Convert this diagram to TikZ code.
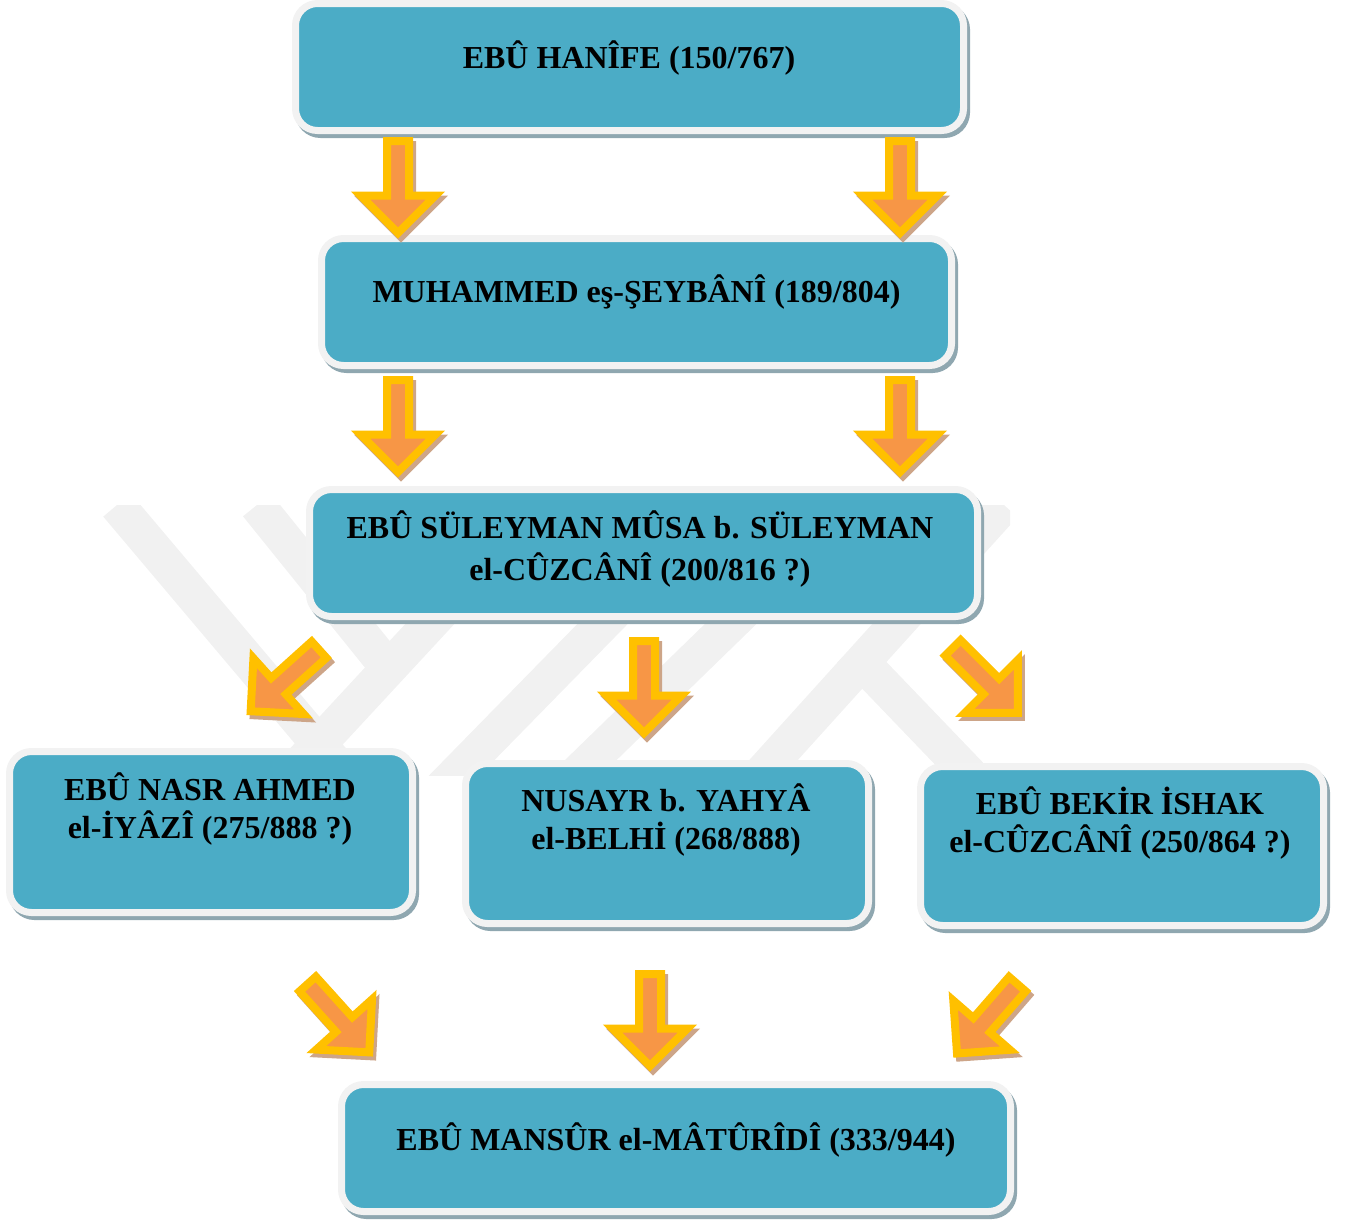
\documentclass[tikz,border=0pt]{standalone}
\usepackage{fontspec}
\setmainfont{Liberation Serif}
\usetikzlibrary{shapes.arrows,shadows}

\definecolor{boxteal}{HTML}{4BACC6}
\definecolor{boxrim}{HTML}{F2F2F2}
\definecolor{boxshade}{HTML}{8FA7B0}
\definecolor{arrowfill}{HTML}{F79646}
\definecolor{arrowrim}{HTML}{FFC000}
\definecolor{arrowshade}{HTML}{CDA588}
\definecolor{markgray}{HTML}{F1F1F1}

\tikzset{
    box/.style={rectangle, rounded corners=22pt, fill=boxteal, draw=boxrim, line width=7pt,
        drop shadow={shadow xshift=3pt, shadow yshift=-4pt, opacity=1,
            fill=boxshade, draw=boxshade, line width=7pt}},
    scholar/.style={font=\bfseries\fontsize{32}{38}\selectfont, align=center,
        anchor=base, inner sep=0pt},
    blockarrow/.style={single arrow, anchor=tail, minimum height=92pt,
        inner xsep=0pt, inner ysep=7pt, single arrow head extend=26.5pt,
        single arrow tip angle=90, fill=arrowfill, draw=arrowrim, line width=8pt,
        drop shadow={shadow xshift=3pt, shadow yshift=-4pt, opacity=1,
            fill=arrowshade, draw=arrowshade, line width=8pt}},
    stripe/.style={draw=markgray, line width=36pt}
}

\begin{document}
\begin{tikzpicture}[x=1pt, y=1pt]
    \useasboundingbox (0,0) rectangle (1348,-1221);

    % filigran
    \begin{scope}
        \clip (60,-505) rectangle (1010,-775);
        \draw[stripe] (117,-505) -- (345,-775);
        \draw[stripe] (257,-505) -- (390,-670);
        \draw[stripe] (540,-505) -- (290,-775);
        \draw[stripe] (719,-505) -- (440,-790);
        \draw[stripe] (853,-505) -- (560,-790);
        \draw[stripe] (1004,-505) -- (760,-775);
        \draw[stripe] (850,-650) -- (970,-775);
    \end{scope}

    % kutular
    \node[box, minimum width=668pt, minimum height=127pt] (hanife) at (629.5,-67) {};
    \node[box, minimum width=630pt, minimum height=127pt] (seybani) at (636.5,-302) {};
    \node[box, minimum width=668pt, minimum height=127pt] (cuzcani) at (643.5,-553) {};
    \node[box, minimum width=403pt, minimum height=161pt] (iyazi) at (211,-832) {};
    \node[box, minimum width=403pt, minimum height=160pt] (belhi) at (667,-843.5) {};
    \node[box, minimum width=403pt, minimum height=159pt] (ishak) at (1122,-846) {};
    \node[box, minimum width=669pt, minimum height=127pt] (maturidi) at (676,-1148) {};

    % isimler
    \node[scholar] (hanife-t) at (629,-68) {EBÛ HANÎFE (150/767)};
    \node[scholar] (seybani-t) at (636.5,-302.5) {MUHAMMED eş-ŞEYBÂNÎ (189/804)};
    \node[scholar] (cuzcani-t) at (640,-580) {EBÛ SÜLEYMAN MÛSA b. SÜLEYMAN\\[4pt]el-CÛZCÂNÎ (200/816 ?)};
    \node[scholar] (iyazi-t) at (210,-838.5) {EBÛ NASR AHMED\\el-İYÂZÎ (275/888 ?)};
    \node[scholar] (belhi-t) at (666,-849.5) {NUSAYR b. YAHYÂ\\el-BELHİ (268/888)};
    \node[scholar] (ishak-t) at (1120,-852.5) {EBÛ BEKİR İSHAK\\el-CÛZCÂNÎ (250/864 ?)};
    \node[scholar] (maturidi-t) at (676,-1150.5) {EBÛ MANSÛR el-MÂTÛRÎDÎ (333/944)};

    % oklar
    \node[blockarrow, rotate=-90] (ok1) at (398,-137) {};
    \node[blockarrow, rotate=-90] (ok2) at (900,-137) {};
    \node[blockarrow, rotate=-90] (ok3) at (398,-376) {};
    \node[blockarrow, rotate=-90] (ok4) at (900,-376) {};
    \node[blockarrow, rotate=-138] (ok5) at (322,-647) {};
    \node[blockarrow, rotate=-90] (ok6) at (644,-637) {};
    \node[blockarrow, rotate=-45] (ok7) at (950,-645) {};
    \node[blockarrow, rotate=-48] (ok8) at (305,-981) {};
    \node[blockarrow, rotate=-90] (ok9) at (650,-970) {};
    \node[blockarrow, rotate=-131] (ok10) at (1020,-981) {};
\end{tikzpicture}
\end{document}
